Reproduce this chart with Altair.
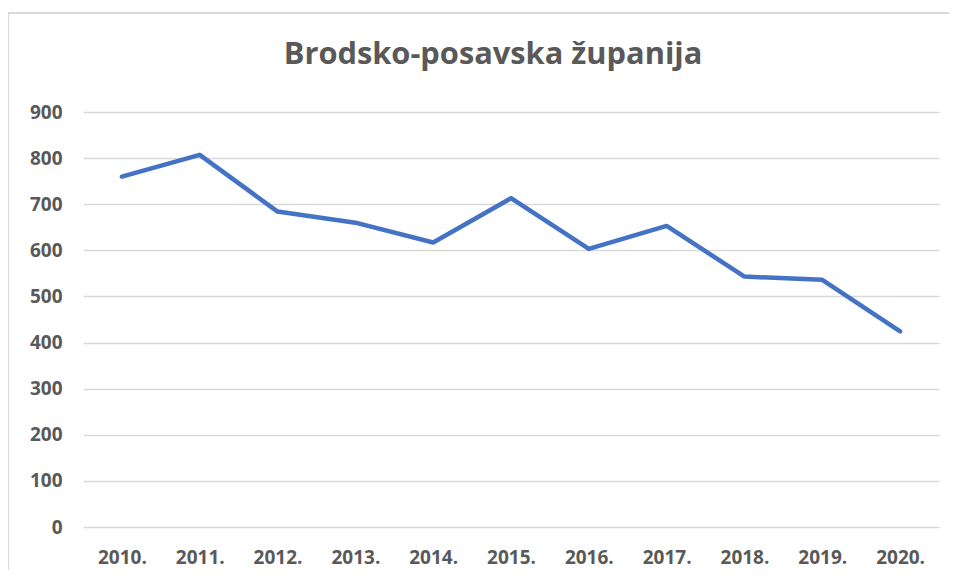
import altair as alt
import pandas as pd

years = ["2010.", "2011.", "2012.", "2013.", "2014.", "2015.", "2016.", "2017.", "2018.", "2019.", "2020."]
values = [760, 807, 684, 660, 617, 713, 603, 653, 543, 536, 424]
y_ticks = [0, 100, 200, 300, 400, 500, 600, 700, 800, 900]

df = pd.DataFrame({"year": years, "value": values})

GRAY = "#595959"
FONT = "Open Sans"
FRAME = "#d9d9d9"

line = alt.Chart(df).mark_line(color="#4472C4", strokeWidth=4.5, strokeCap="round", strokeJoin="round").encode(
    x=alt.X("year:O", sort=years, title=None,
            scale=alt.Scale(type="point", padding=0.5),
            axis=alt.Axis(labelAngle=0, domain=False, ticks=False, grid=False,
                          labelPadding=21, labelFontSize=19, labelFont=FONT,
                          labelFontWeight="bold", labelColor=GRAY)),
    y=alt.Y("value:Q", title=None,
            scale=alt.Scale(domain=[0, 900], nice=False),
            axis=alt.Axis(values=y_ticks, domain=False, ticks=False, grid=True,
                          gridColor="#d9d9d9", gridWidth=1.5,
                          labelPadding=21, labelFontSize=19, labelFont=FONT,
                          labelFontWeight="bold", labelColor=GRAY)),
)

frame_df = pd.DataFrame({"k": [0]})
frame_top = alt.Chart(frame_df).mark_rule(color=FRAME, strokeWidth=2).encode(
    x=alt.value(-75), x2=alt.value(900), y=alt.value(-99)
)
frame_left = alt.Chart(frame_df).mark_rule(color=FRAME, strokeWidth=2).encode(
    x=alt.value(-75), y=alt.value(-100), y2=alt.value(500)
)

chart = alt.layer(frame_top, frame_left, line).properties(
    width=856,
    height=415,
    title=alt.TitleParams(
        "Brodsko-posavska županija",
        font=FONT, fontSize=30.8, fontWeight="bold", color=GRAY,
        anchor="middle", dx=-18, offset=-84, baseline="alphabetic",
    ),
    autosize=alt.AutoSizeParams(type="none"),
    padding={"left": 75, "top": 104, "right": 10, "bottom": 43},
).configure_view(stroke=None)

chart.save("out.html", embed_options={"renderer": "svg", "actions": False})
